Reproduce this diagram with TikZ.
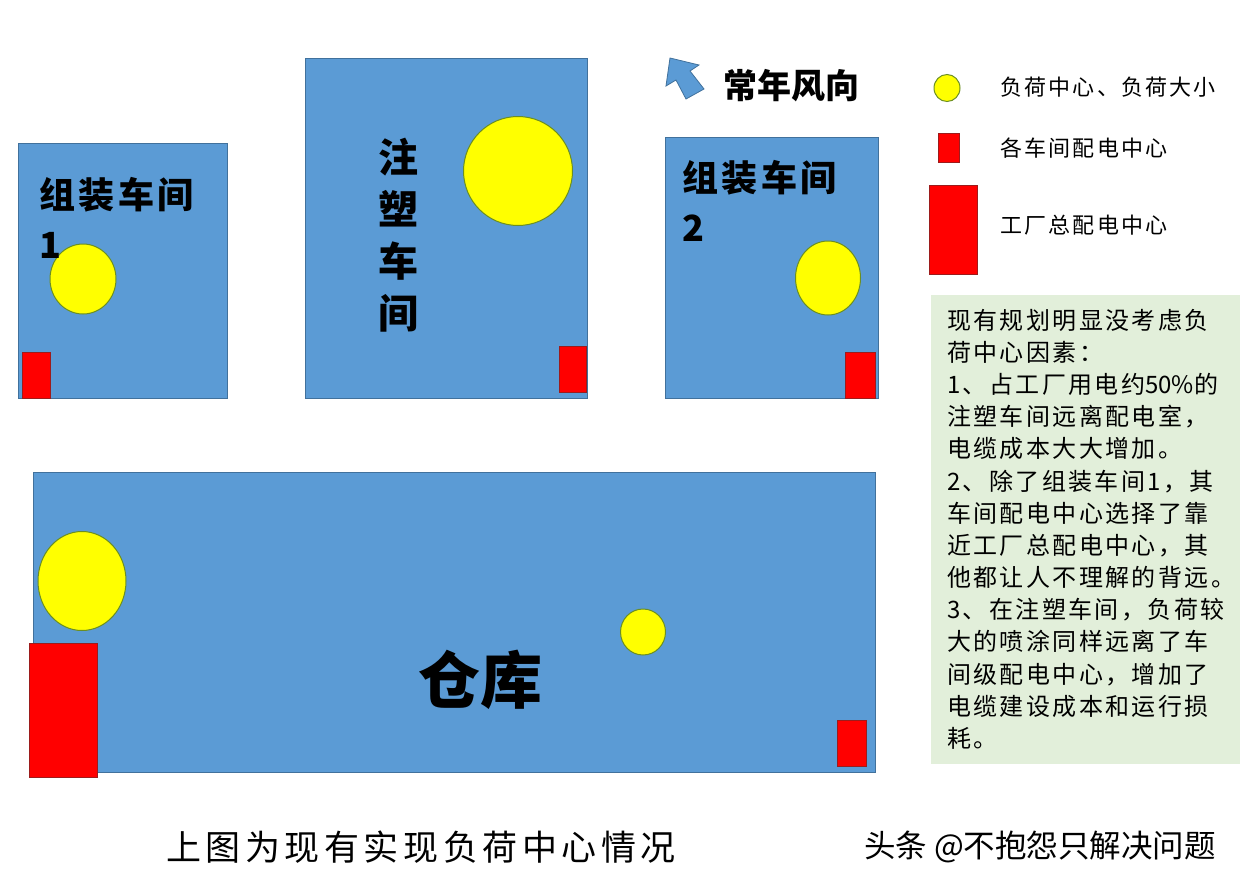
\documentclass[tikz,border=0pt]{standalone}
\usepackage{fontspec}
\setmainfont{Noto Sans CJK SC}
\newfontfamily\spacedcjk{Noto Sans CJK SC}[LetterSpace=10]
\newfontfamily\widecjk{Noto Sans CJK SC}[LetterSpace=13]
\usetikzlibrary{shapes.geometric}

\definecolor{shopblue}{HTML}{5B9BD5}
\definecolor{shopedge}{HTML}{41719C}
\definecolor{loadyellow}{HTML}{FFFF00}
\definecolor{loadedge}{HTML}{6B8E23}
\definecolor{subred}{HTML}{FF0000}
\definecolor{subedge}{HTML}{9C1C1C}
\definecolor{notegreen}{HTML}{E2EFDA}

\begin{document}
\begin{tikzpicture}[x=1pt,y=-1pt]

      \useasboundingbox[fill=white] (0,0) rectangle (1242,886);

      % workshops
      \begin{scope}[every node/.style={rectangle, draw=shopedge, fill=shopblue, inner sep=0pt, line width=1pt}]
        \node[minimum width=209, minimum height=255] (asm1)  at (122.5,270.5) {};
        \node[minimum width=282, minimum height=340] (mold)  at (446,228)     {};
        \node[minimum width=213, minimum height=261] (asm2)  at (771.5,267.5) {};
        \node[minimum width=842, minimum height=300] (store) at (454,622)     {};
      \end{scope}

      % load centres
      \begin{scope}[every node/.style={ellipse, draw=loadedge, fill=loadyellow, inner sep=0pt, line width=1pt}]
        \node[minimum width=66,  minimum height=70]  (load1) at (83,279)  {};
        \node[minimum width=109, minimum height=109] (load2) at (518,171) {};
        \node[minimum width=65,  minimum height=74]  (load3) at (828,278) {};
        \node[minimum width=88,  minimum height=99]  (load4) at (82,581)  {};
        \node[minimum width=45,  minimum height=46]  (load5) at (643,632) {};
        \node[minimum width=26,  minimum height=27]  (keyload) at (947,88) {};
      \end{scope}

      % distribution centres
      \begin{scope}[every node/.style={rectangle, draw=subedge, fill=subred, inner sep=0pt, line width=.8pt}]
        \node[minimum width=28, minimum height=46]  (sub1) at (36,375)     {};
        \node[minimum width=27, minimum height=46]  (sub2) at (572.5,369)  {};
        \node[minimum width=30, minimum height=46]  (sub3) at (860,375)    {};
        \node[minimum width=29, minimum height=46]  (sub4) at (851.5,743)  {};
        \node[minimum width=68, minimum height=134] (main) at (63,710)     {};
        \node[minimum width=21, minimum height=29]  (keysub)  at (948.5,147.5) {};
        \node[minimum width=48, minimum height=89]  (keymain) at (953,229.5)   {};
      \end{scope}

      % wind arrow
      \draw[fill=shopblue, draw=shopedge, line width=.8pt]
        (670,58) -- (699,65) -- (690,71) -- (704,89) -- (686,99) -- (676,80) -- (666,86) -- cycle;

      % labels
      \begin{scope}[every node/.style={inner sep=0pt}]
        \node[anchor=north west, align=left, font=\spacedcjk\bfseries\fontsize{36}{50}\selectfont] (asm1text) at (39,177) {组装车间\\1};
        \node[align=center, font=\bfseries\fontsize{40}{52}\selectfont] (moldtext) at (398,235) {注\\塑\\车\\间};
        \node[anchor=north west, align=left, font=\spacedcjk\bfseries\fontsize{36}{50}\selectfont] (asm2text) at (682,160) {组装车间\\2};
        \node[font=\bfseries\fontsize{62}{66}\selectfont] (storetext) at (480,680) {仓库};
        \node[font=\bfseries\fontsize{34}{40}\selectfont] (windtext) at (791,86) {常年风向};
      \end{scope}

      \begin{scope}[every node/.style={anchor=west, inner sep=0pt, font=\spacedcjk\fontsize{22}{28}\selectfont}]
        \node (keyloadtext) at (1000,87)  {负荷中心、负荷大小};
        \node (keysubtext)  at (1000,148) {各车间配电中心};
        \node (keymaintext) at (1000,225) {工厂总配电中心};
      \end{scope}

      % note
      \node[fill=notegreen, minimum width=309, minimum height=469, inner sep=0pt] (notebox) at (1085.5,529.5) {};
      \node[anchor=north west, align=left, inner sep=0pt, font=\spacedcjk\fontsize{24}{32.15}\selectfont] (notetext) at (947,309) {%
        现有规划明显没考虑负\\
        荷中心因素：\\
        1、占工厂用电约{\addfontfeature{LetterSpace=0}50\%}的\\
        注塑车间远离配电室，\\
        电缆成本大大增加。\\
        2、除了组装车间1，其\\
        车间配电中心选择了靠\\
        近工厂总配电中心，其\\
        他都让人不理解的背远。\\
        3、在注塑车间，负荷较\\
        大的喷涂同样远离了车\\
        间级配电中心，增加了\\
        电缆建设成本和运行损\\
        耗。};

      % caption
      \node[inner sep=0pt, font=\widecjk\fontsize{35}{40}\selectfont] (caption) at (421,847) {上图为现有实现负荷中心情况};
      \node[inner sep=0pt, font=\fontsize{31.5}{36}\selectfont] (mark) at (1040,847) {头条 @不抱怨只解决问题};

    \end{tikzpicture}
\end{document}
